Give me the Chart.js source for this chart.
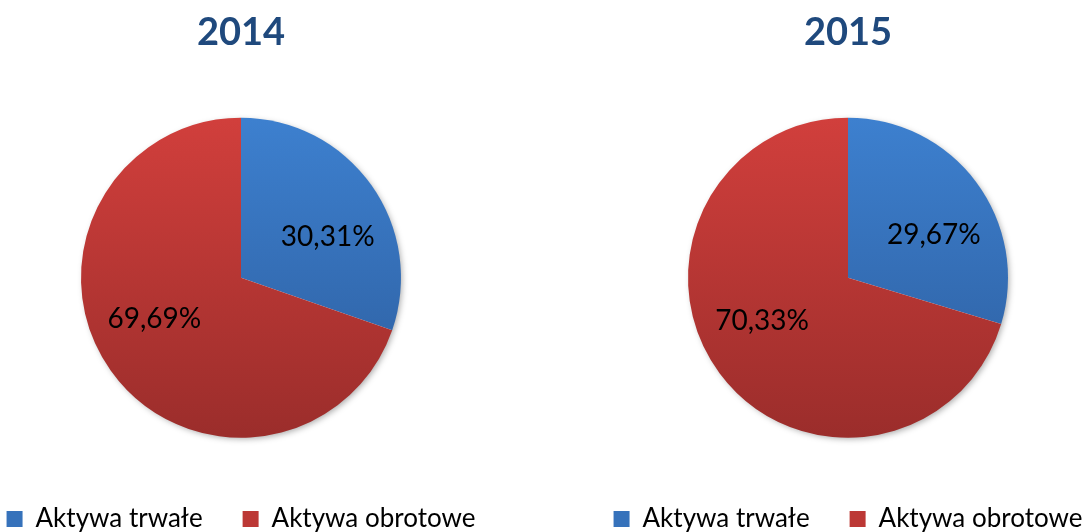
<!DOCTYPE html>
<html>
<head>
<meta charset="utf-8">
<script src="https://cdn.jsdelivr.net/npm/chart.js@4.4.1/dist/chart.umd.min.js"></script>
<style>
  html, body { margin: 0; padding: 0; background: #ffffff; }
  body { width: 1090px; height: 532px; position: relative; overflow: hidden; }
  canvas { position: absolute; top: 0; }
  #c1 { left: -39px; }
  #c2 { left: 568px; }
</style>
</head>
<body>
<canvas id="c1" width="560" height="542"></canvas>
<canvas id="c2" width="560" height="542"></canvas>
<script>
const categories = ["Aktywa trwałe", "Aktywa obrotowe"];
const years = ["2014", "2015"];
const values2014 = [30.31, 69.69];
const values2015 = [29.67, 70.33];

const FONT = "Lato, 'Open Sans', sans-serif";
const gradStops = [
  ["#3D80CF", "#2C5C9C"],
  ["#D13F3C", "#9B2D2B"]
];
const legendColors = ["#3672BB", "#BC3835"];

function sliceColor(ctx) {
  const chart = ctx.chart;
  const area = chart.chartArea;
  const idx = ctx.dataIndex || 0;
  if (!area || !isFinite(area.top) || !isFinite(area.bottom)) return legendColors[idx];
  const cy = (area.top + area.bottom) / 2;
  const r = 160;
  if (!isFinite(cy)) return legendColors[idx];
  const g = chart.ctx.createLinearGradient(0, cy - r, 0, cy + r);
  g.addColorStop(0, gradStops[idx][0]);
  g.addColorStop(1, gradStops[idx][1]);
  return g;
}

const shadowPlugin = {
  id: 'pieShadow',
  beforeDatasetsDraw(chart) {
    const arc = chart.getDatasetMeta(0).data[0];
    if (!arc || !isFinite(arc.x)) return;
    const c = chart.ctx;
    c.save();
    c.shadowColor = 'rgba(0,0,0,0.35)';
    c.shadowBlur = 6;
    c.shadowOffsetX = 2;
    c.shadowOffsetY = 2;
    c.fillStyle = '#ffffff';
    c.beginPath();
    c.arc(arc.x, arc.y, arc.outerRadius - 1, 0, Math.PI * 2);
    c.fill();
    c.restore();
  }
};

const labelPlugin = {
  id: 'sliceLabels',
  afterDatasetsDraw(chart) {
    const meta = chart.getDatasetMeta(0);
    const data = chart.data.datasets[0].data;
    const c = chart.ctx;
    c.save();
    c.font = "28px " + FONT;
    c.fillStyle = "#000000";
    c.textAlign = "center";
    c.textBaseline = "middle";
    meta.data.forEach((arc, i) => {
      const mid = (arc.startAngle + arc.endAngle) / 2 + 10 * Math.PI / 180;
      const d = arc.outerRadius * 0.6;
      const txt = data[i].toFixed(2).replace('.', ',') + '%';
      c.fillText(txt, arc.x + Math.cos(mid) * d, arc.y + Math.sin(mid) * d);
    });
    c.restore();
  }
};

function makeChart(id, year, values) {
  return new Chart(document.getElementById(id), {
    type: 'pie',
    data: {
      labels: categories,
      datasets: [{
        data: values,
        backgroundColor: sliceColor,
        borderWidth: 0,
        hoverOffset: 0,
        radius: 160
      }]
    },
    options: {
      responsive: false,
      animation: false,
      devicePixelRatio: 1,
      events: [],
      layout: { padding: 0 },
      plugins: {
        tooltip: { enabled: false },
        title: {
          display: true,
          text: year,
          color: '#1F497D',
          font: { family: FONT, size: 38, weight: 'bold' },
          padding: { top: 10, bottom: 34 }
        },
        legend: {
          position: 'bottom',
          labels: {
            font: { family: FONT, size: 26 },
            color: '#000000',
            boxWidth: 16,
            boxHeight: 16,
            padding: 40,
            generateLabels(chart) {
              return categories.map((t, i) => ({
                text: t,
                fillStyle: legendColors[i],
                strokeStyle: legendColors[i],
                lineWidth: 0,
                hidden: false,
                index: i
              }));
            }
          }
        }
      }
    },
    plugins: [shadowPlugin, labelPlugin]
  });
}

makeChart('c1', years[0], values2014);
makeChart('c2', years[1], values2015);
</script>
</body>
</html>
